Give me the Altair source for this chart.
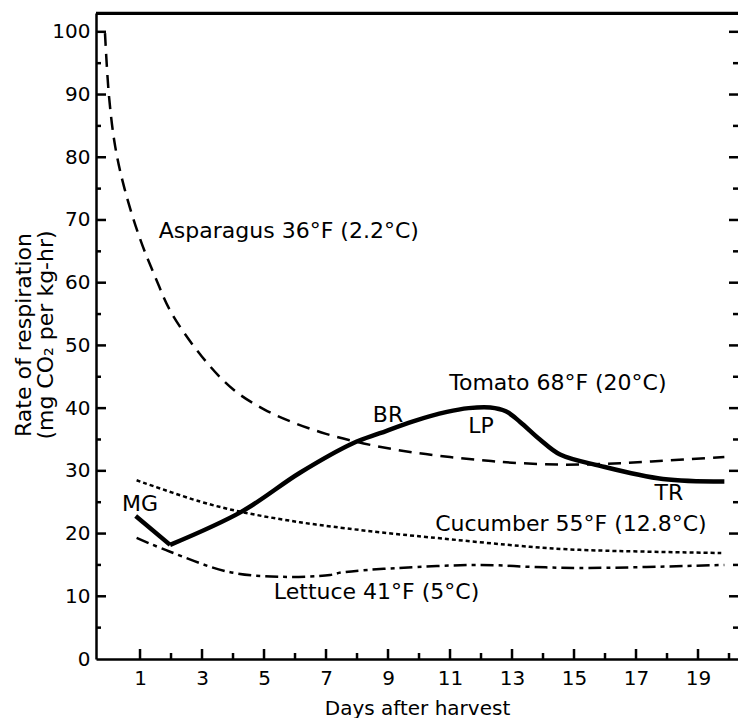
import altair as alt
import pandas as pd

# ---------------- data ----------------
asp_day = [-0.13, 0.0, 0.2, 0.5, 1.0, 1.5, 2.0, 3.0, 4.0, 5.0, 6.0, 7.0, 8.0, 9.0, 10.0, 11.0, 12.0, 13.0, 14.5, 16.0, 17.5, 19.85]
asp_val = [99.8, 89.7, 81.7, 75.0, 67.0, 60.8, 55.3, 48.2, 43.0, 39.8, 37.6, 35.9, 34.6, 33.6, 32.8, 32.2, 31.7, 31.3, 31.0, 31.1, 31.5, 32.2]

tom_day = [0.86, 1.97, 4.28, 6.16, 7.87, 8.74, 9.81, 10.9, 11.6, 12.3, 12.8, 13.26, 13.9, 14.55, 15.84, 17.87, 19.85]
tom_val = [22.8, 18.2, 23.5, 29.7, 34.4, 36.0, 37.9, 39.4, 40.0, 40.1, 39.5, 37.8, 35.0, 32.6, 30.8, 28.7, 28.3]

cuc_day = [0.89, 2.94, 4.32, 6.16, 7.87, 8.74, 10.35, 13.58, 15.19, 19.75]
cuc_val = [28.5, 25.1, 23.4, 21.8, 20.7, 20.2, 19.4, 17.9, 17.4, 16.9]

let_day = [0.89, 1.97, 3.85, 5.57, 7.13, 7.5, 9.28, 11.97, 13.58, 15.19, 19.85]
let_val = [19.3, 17.1, 13.9, 13.1, 13.4, 13.8, 14.5, 15.0, 14.7, 14.5, 15.0]

label_text = ["Asparagus 36°F (2.2°C)", "Tomato 68°F (20°C)", "Cucumber 55°F (12.8°C)",
              "Lettuce 41°F (5°C)", "MG", "BR", "LP", "TR"]
label_day = [5.8, 14.48, 14.9, 8.63, 1.0, 9.0, 12.0, 18.06]
label_val = [68.3, 44.0, 21.6, 10.7, 24.7, 38.9, 37.2, 26.5]

x_major = [1, 3, 5, 7, 9, 11, 13, 15, 17, 19]
x_minor = [2, 4, 6, 8, 10, 12, 14, 16, 18, 20]
y_major = [10, 20, 30, 40, 50, 60, 70, 80, 90, 100]
y_minor = [5, 15, 25, 35, 45, 55, 65, 75, 85, 95]
y_labels = [0, 10, 20, 30, 40, 50, 60, 70, 80, 90, 100]

y_title_lines = ["Rate of respiration", "(mg CO₂ per kg-hr)"]

# ---------------- layout ----------------
W, H = 642, 646
FONT = "DejaVu Sans"
xs = alt.Scale(domain=[-0.42, 20.29], nice=False, zero=False)
ys = alt.Scale(domain=[0, 103], nice=False, zero=False)

x_axis = alt.Axis(values=x_major, title="Days after harvest", format="d", ticks=False, tickSize=0,
                  labelPadding=9, labelFont=FONT, labelFontSize=20, labelColor="black",
                  titleFont=FONT, titleFontSize=20, titleFontWeight="normal", titleColor="black",
                  titlePadding=10, domainColor="black", domainWidth=2.5, grid=False,
                  labelFlush=False, labelOverlap=False)
y_axis = alt.Axis(values=y_labels, title=None, format="d", ticks=False, tickSize=0,
                  labelPadding=6, labelFont=FONT, labelFontSize=20, labelColor="black",
                  domainColor="black", domainWidth=2.5, grid=False, labelOverlap=False)


def series(days, vals, width, dash, interp):
    df = pd.DataFrame({"day": days, "val": vals})
    kw = dict(color="black", strokeWidth=width, interpolate=interp, clip=True)
    if dash:
        kw["strokeDash"] = dash
    return alt.Chart(df).mark_line(**kw).encode(
        x=alt.X("day:Q", scale=xs, axis=x_axis),
        y=alt.Y("val:Q", scale=ys, axis=y_axis),
        order="day:Q",
    )


asp = series(asp_day, asp_val, 2.5, [13, 8], "catmull-rom")
tom_a = series(tom_day[:2], tom_val[:2], 4.5, None, "linear")
tom_b = series(tom_day[1:], tom_val[1:], 4.5, None, "catmull-rom")
cuc = series(cuc_day, cuc_val, 2.5, [4, 3], "catmull-rom")
let = series(let_day, let_val, 2.5, [13, 5, 4, 5], "catmull-rom")

labels_df = pd.DataFrame({"t": label_text, "day": label_day, "val": label_val})
labels = alt.Chart(labels_df).mark_text(font=FONT, fontSize=22, color="black",
                                        align="center", baseline="middle").encode(
    x=alt.X("day:Q", scale=xs, axis=x_axis),
    y=alt.Y("val:Q", scale=ys, axis=y_axis),
    text="t:N",
)


def yticks(values, x0, x1):
    return alt.Chart(pd.DataFrame({"v": values})).mark_rule(color="black", strokeWidth=2.5).encode(
        y=alt.Y("v:Q", scale=ys, axis=y_axis), x=alt.value(x0), x2=alt.value(x1))


def xticks(values, length):
    return alt.Chart(pd.DataFrame({"d": values})).mark_rule(color="black", strokeWidth=2.5).encode(
        x=alt.X("d:Q", scale=xs, axis=x_axis), y=alt.value(H), y2=alt.value(H - length))


ticks = [
    yticks(y_major, 0, 10), yticks(y_minor, 0, 5),
    yticks(y_major, W - 9, W), yticks(y_minor, W - 5, W),
    xticks(x_major, 10), xticks(x_minor, 6),
]

top_frame = alt.Chart(pd.DataFrame({"a": [0]})).mark_rule(color="black", strokeWidth=2.5).encode(
    y=alt.value(0), x=alt.value(0), x2=alt.value(W))

ytitle_df = pd.DataFrame({"t": y_title_lines, "line": [0, 1]})
ytitle = alt.Chart(ytitle_df).mark_text(font=FONT, fontSize=22, color="black", angle=270,
                                        align="center", baseline="middle").encode(
    x=alt.X("line:Q", scale=alt.Scale(domain=[0, 1], range=[-72, -50]), axis=None),
    y=alt.value(H / 2 - 1),
    text="t:N",
)

chart = alt.layer(asp, tom_a, tom_b, cuc, let, labels, *ticks, top_frame, ytitle).resolve_scale(
    x="independent"
).properties(
    width=W, height=H,
    autosize=alt.AutoSizeParams(type="none"),
    padding={"left": 88, "top": 5, "right": 0, "bottom": 60},
).configure_view(strokeWidth=0).configure(background="white")

chart.save("out.html", embed_options={"renderer": "svg", "actions": False})
